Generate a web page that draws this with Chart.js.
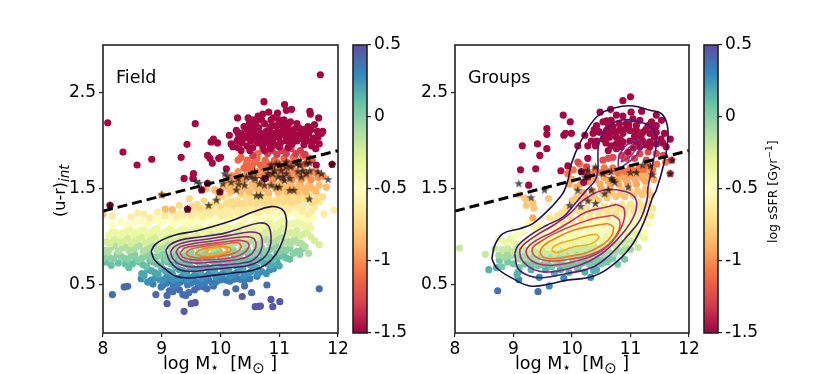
<!DOCTYPE html>
<html><head><meta charset="utf-8">
<style>html,body{margin:0;padding:0;background:#fff;width:831px;height:374px;overflow:hidden}canvas{position:absolute;top:0}</style>
<script src="https://cdn.jsdelivr.net/npm/chart.js@4"></script>
</head><body>
<canvas id="p1" style="left:0" width="352" height="374"></canvas>
<canvas id="c1" style="left:349px" width="70" height="374"></canvas>
<canvas id="p2" style="left:405px" width="300" height="374"></canvas>
<canvas id="c2" style="left:700px" width="131" height="374"></canvas>
<script>
const xTicks=[8,9,10,11,12], yTicks=[0.5,1.5,2.5];
const cbTicks=[-1.5,-1,-0.5,0,0.5];
const cbLabels=['-1.5','-1','-0.5','0','0.5'];
const spectral=['#9e0142','#d53e4f','#f46d43','#fdae61','#fee08b','#ffffbf','#e6f598','#abdda4','#66c2a5','#3288bd','#5e4fa2'];
const dashLine=[8,1.27,12,1.9];

// Field: points grouped by log sSFR
const fA=[8.16,1.22,8.48,1.21,8.59,1.25,8.7,1.24,8.93,1.26,9.19,1.25,9.3,1.24,9.42,1.27,9.5,1.22,9.58,1.28,9.66,1.24,9.74,1.27,9.82,1.23,9.9,1.28,9.98,1.25,10.05,1.22,10.12,1.28,10.2,1.31,10.28,1.26,10.36,1.3,10.44,1.27,10.52,1.32,10.6,1.29,10.68,1.33,10.76,1.3,10.84,1.34,10.92,1.31,11,1.35,11.08,1.32,11.16,1.29,11.24,1.34,11.32,1.31,11.4,1.27,11.5,1.24,11.6,1.31,11.76,1.24,11.93,1.28,11.69,1.37,8.8,1.2,9.05,1.22,9.25,1.21,9.37,1.23,9.54,1.25,9.7,1.21,9.86,1.26,10.01,1.27,10.16,1.23,10.32,1.24,10.48,1.29,10.64,1.25,10.8,1.28,10.96,1.33,11.12,1.28,11.28,1.33,11.44,1.32,11.55,1.27];
const fB=[8.15,1.12,8.55,1.15,8.72,1.13,8.85,1.18,8.97,1.14,9.08,1.19,9.2,1.14,9.32,1.18,9.44,1.14,9.56,1.19,9.68,1.15,9.8,1.2,9.92,1.16,10.04,1.21,10.16,1.17,10.28,1.22,10.4,1.18,10.52,1.24,10.64,1.2,10.76,1.25,10.88,1.21,11,1.27,11.12,1.23,11.24,1.27,11.36,1.21,11.48,1.18,11.58,1.2,8.3,1.16,8.42,1.13,8.65,1.17,8.78,1.16,8.91,1.2,9.02,1.17,9.14,1.17,9.26,1.19,9.38,1.16,9.5,1.16,9.62,1.18,9.74,1.19,9.86,1.18,9.98,1.19,10.1,1.19,10.22,1.2,10.34,1.2,10.46,1.21,10.58,1.22,10.7,1.22,10.82,1.23,10.94,1.24,11.06,1.25,11.18,1.25,11.3,1.24,11.42,1.24];
const fC=[8.1,1.02,8.22,1.05,8.34,1.04,8.46,1.08,8.58,1.05,8.7,1.09,8.82,1.05,8.92,1.09,9.04,1.05,9.16,1.09,9.28,1.06,9.4,1.1,9.52,1.07,9.64,1.11,9.76,1.07,9.88,1.12,10,1.08,10.12,1.13,10.24,1.09,10.36,1.14,10.48,1.1,10.6,1.15,10.72,1.12,10.84,1.17,10.96,1.13,11.08,1.18,11.2,1.14,11.32,1.16,11.44,1.11,11.54,1.09,8.16,1.07,8.28,1.02,8.4,1.06,8.52,1.03,8.64,1.07,8.76,1.03,8.87,1.07,8.98,1.03,9.1,1.07,9.22,1.04,9.34,1.08,9.46,1.05,9.58,1.09,9.7,1.05,9.82,1.1,9.94,1.06,10.06,1.1,10.18,1.07,10.3,1.11,10.42,1.08,10.54,1.13,10.66,1.09,10.78,1.14,10.9,1.11,11.02,1.16,11.14,1.11,11.26,1.13,11.38,1.14,11.5,1.13];
const fD=[8.06,.95,8.18,.97,8.3,.94,8.42,.99,8.54,.96,8.66,1,8.78,.96,8.9,1,9.02,.96,9.14,1.01,9.26,.97,9.38,1.01,9.5,.98,9.62,1.02,9.74,.98,9.86,1.03,9.98,.99,10.1,1.03,10.22,1,10.34,1.05,10.46,1.01,10.58,1.06,10.7,1.02,10.82,1.07,10.94,1.04,11.06,1.09,11.18,1.05,11.3,1.07,11.42,1.03,11.54,1,11.68,.92,8.12,.93,8.24,.99,8.36,.96,8.48,.93,8.6,.98,8.72,.94,8.84,.98,8.96,.94,9.08,.99,9.2,.95,9.32,.99,9.44,.96,9.56,1,9.68,.96,9.8,1.01,9.92,.97,10.04,1.01,10.16,.98,10.28,1.02,10.4,.99,10.52,1.03,10.64,1,10.76,1.05,10.88,1.01,11,1.06,11.12,1.02,11.24,1.03,11.36,1.01,11.48,1.05,11.6,.96];
const fE=[8.04,.86,8.14,.89,8.26,.85,8.38,.9,8.5,.87,8.62,.91,8.74,.87,8.86,.91,8.98,.88,9.1,.92,9.22,.88,9.34,.93,9.46,.89,9.58,.93,9.7,.89,9.82,.94,9.94,.9,10.06,.95,10.18,.91,10.3,.96,10.42,.92,10.54,.97,10.66,.93,10.78,.98,10.9,.95,11.02,1,11.14,.96,11.26,.98,11.38,.93,11.5,.83,8.09,.84,8.2,.91,8.32,.88,8.44,.86,8.56,.89,8.68,.85,8.8,.89,8.92,.86,9.04,.9,9.16,.86,9.28,.91,9.4,.87,9.52,.91,9.64,.87,9.76,.92,9.88,.88,10,.93,10.12,.89,10.24,.94,10.36,.9,10.48,.95,10.6,.91,10.72,.96,10.84,.93,10.96,.97,11.08,.94,11.2,.93,11.32,.94,11.44,.9];
const fF=[8,.77,8.08,.8,8.18,.77,8.3,.8,8.42,.77,8.54,.82,8.66,.78,8.78,.82,8.9,.79,9.02,.83,9.14,.79,9.26,.83,9.38,.8,9.5,.84,9.62,.8,9.74,.85,9.86,.81,9.98,.85,10.1,.82,10.22,.86,10.34,.83,10.46,.87,10.58,.84,10.7,.89,10.82,.86,10.94,.91,11.06,.87,11.18,.89,11.3,.85,11.4,.88,8.12,.78,8.24,.82,8.36,.78,8.48,.8,8.6,.76,8.72,.8,8.84,.77,8.96,.81,9.08,.77,9.2,.81,9.32,.78,9.44,.82,9.56,.78,9.68,.83,9.8,.79,9.92,.83,10.04,.8,10.16,.84,10.28,.81,10.4,.85,10.52,.82,10.64,.87,10.76,.84,10.88,.88,11,.85,11.12,.86,11.24,.83,11.35,.82];
const fG=[8.05,.74,8.14,.705,8.26,.73,8.38,.72,8.44,.68,8.56,.75,8.68,.71,8.8,.75,8.92,.72,9.04,.76,9.16,.72,9.28,.76,9.4,.73,9.52,.77,9.64,.73,9.76,.78,9.88,.74,10,.78,10.12,.75,10.24,.79,10.36,.76,10.48,.8,10.6,.77,10.72,.82,10.84,.79,10.96,.83,11.08,.8,11.18,.77,8.5,.72,8.62,.74,8.74,.69,8.86,.74,8.98,.7,9.1,.74,9.22,.7,9.34,.74,9.46,.71,9.58,.75,9.7,.71,9.82,.76,9.94,.72,10.06,.76,10.18,.73,10.3,.77,10.42,.74,10.54,.78,10.66,.76,10.78,.8,10.9,.77,11.02,.8,11.12,.78];
const fH=[8.66,.62,8.76,.66,8.88,.63,9,.67,9.12,.64,9.24,.68,9.36,.65,9.48,.69,9.6,.66,9.72,.7,9.84,.67,9.96,.71,10.08,.68,10.2,.72,10.32,.69,10.44,.73,10.56,.7,10.68,.75,10.8,.72,10.92,.76,11,.7,8.7,.6,8.82,.65,8.94,.61,9.06,.65,9.18,.62,9.3,.66,9.42,.63,9.54,.67,9.66,.64,9.78,.68,9.9,.65,10.02,.69,10.14,.66,10.26,.7,10.38,.67,10.5,.71,10.62,.68,10.74,.73,10.86,.7,10.96,.74];
const fI=[8.65,.566,8.76,.53,8.9,.58,9.02,.55,9.14,.6,9.26,.57,9.38,.6,9.5,.58,9.62,.62,9.74,.59,9.86,.63,9.98,.6,10.1,.64,10.22,.61,10.34,.65,10.46,.62,10.58,.67,10.7,.64,10.78,.62,10.9,.67,8.82,.55,8.96,.56,9.08,.58,9.2,.55,9.32,.58,9.44,.56,9.56,.6,9.68,.57,9.8,.61,9.92,.58,10.04,.62,10.16,.59,10.28,.63,10.4,.6,10.52,.64,10.64,.62,10.84,.66];
const fJ=[8.85,.51,8.99,.48,9.08,.52,9.2,.49,9.32,.53,9.44,.5,9.56,.54,9.68,.51,9.8,.55,9.92,.53,10.04,.56,10.16,.54,10.28,.57,10.4,.55,10.5,.566,10.62,.59,9.02,.5,9.14,.54,9.26,.51,9.38,.55,9.5,.52,9.62,.52,9.74,.53,9.86,.52,9.98,.55,10.1,.55,10.22,.56,10.34,.56,10.46,.58];
const fK=[8.16,.4,8.36,.48,8.42,.486,8.9,.4,9.09,.39,9.13,.44,9.19,.43,9.22,.47,9.3,.45,9.36,.4,9.41,.39,9.46,.42,9.56,.45,9.62,.48,9.77,.46,9.72,.48,9.88,.49,10.1,.42,10.26,.46,10.41,.49,10.53,.42,10.79,.5,11.68,.46];
const fL=[9.09,.305,9.38,.226,9.5,.305,9.57,.316,10.37,.38,10.59,.274,10.65,.278,10.68,.28,10.86,.35,10.89,.274,11.01,.326];
const fM=[9.47,1.4,9.6,1.34,9.72,1.38,9.85,1.33,9.95,1.39,10.04,1.42,10.1,1.35,10.15,1.45,10.27,1.38,10.35,1.44,10.44,1.42,10.5,1.36,10.61,1.35,10.7,1.41,10.78,1.42,10.86,1.38,10.95,1.38,11.04,1.44,11.12,1.4,11.2,1.36,11.29,1.38,11.36,1.45,11.45,1.4,11.55,1.36,11.63,1.38,11.74,1.42,11.63,1.45,9.3,1.33,9.52,1.32,9.65,1.3,9.78,1.31,9.9,1.36,10,1.32,10.18,1.37,10.22,1.33,10.32,1.35,10.4,1.35,10.56,1.42,10.65,1.38,10.74,1.36,10.82,1.44,10.9,1.35,11,1.41,11.08,1.37,11.16,1.42,11.25,1.41,11.34,1.38,11.5,1.43];
const fN=[8,1.24,9.06,1.29,9.18,1.285,9,1.44,9.75,1.5,9.9,1.49,9.97,1.45,10.05,1.52,10.14,1.5,10.22,1.55,10.3,1.49,10.38,1.55,10.46,1.49,10.54,1.55,10.62,1.5,10.7,1.55,10.78,1.5,10.86,1.56,10.94,1.5,11.02,1.55,11.1,1.5,11.18,1.55,11.26,1.5,11.34,1.55,11.42,1.5,11.5,1.54,11.58,1.5,11.68,1.54,11.8,1.52,10.1,1.55,10.18,1.48,10.26,1.52,10.34,1.47,10.42,1.51,10.5,1.47,10.58,1.53,10.66,1.47,10.74,1.51,10.82,1.46,10.9,1.53,10.98,1.47,11.06,1.52,11.14,1.47,11.22,1.52,11.3,1.47,11.38,1.52,11.46,1.47,11.54,1.52,11.62,1.48];
const fO=[10.1,1.6,10.2,1.64,10.3,1.68,10.38,1.63,10.46,1.68,10.54,1.63,10.62,1.68,10.7,1.64,10.78,1.69,10.86,1.64,10.94,1.69,11.02,1.64,11.1,1.69,11.18,1.64,11.26,1.69,11.34,1.63,11.42,1.68,11.5,1.63,11.58,1.68,11.66,1.62,11.75,1.63,10.25,1.6,10.34,1.6,10.42,1.6,10.5,1.67,10.58,1.6,10.66,1.65,10.74,1.6,10.82,1.68,10.9,1.6,10.98,1.67,11.06,1.6,11.14,1.67,11.22,1.6,11.3,1.66,11.38,1.6,11.46,1.66,11.54,1.6,11.62,1.67];
const fP=[10.3,1.8,10.35,1.83,10.44,1.76,10.5,1.72,10.58,1.78,10.62,1.82,10.64,1.87,10.68,1.75,10.76,1.8,10.84,1.74,10.92,1.8,11,1.76,11.08,1.82,11.16,1.77,11.24,1.83,11.32,1.78,11.4,1.84,11.48,1.78,11.56,1.8,10.4,1.72,10.46,1.8,10.54,1.74,10.72,1.72,10.8,1.76,10.88,1.73,10.96,1.78,11.04,1.73,11.12,1.78,11.2,1.74,11.28,1.8,11.36,1.75,11.44,1.76,11.52,1.82];
const fQ=[10.55,1.85,10.72,1.92,10.8,1.87,10.88,1.9,10.96,1.86,11.04,1.9,11.12,1.87,11.2,1.92,11.28,1.87,11.36,1.9,11.44,1.86];
const fR=[11.7,2.69,8.08,2.19,10.74,2.41,11.09,2.38,9.57,2.18,8.34,1.885,8.58,1.75,8.83,1.81,9.33,1.83,9.43,1.965,9.38,1.61,9.54,1.66,9.53,1.61,9.78,1.85,9.86,1.77,9.82,1.82,10,1.83,9.97,1.82,9.84,1.99,9.88,2.02,9.95,1.98,10.15,2.06,10.29,2.24,10.47,2.24,10.55,2.22,10.64,2.26,10.72,2.28,10.82,2.3,10.97,2.29,11.12,2.32,11.21,2.33,11.52,2.31,11.53,2.28,11.67,2.24,11.6,2.17,11.49,2.15,11.74,2.1,11.72,2.08,11.66,2.04,10.27,2.11,10.3,2.08,10.18,1.97,10.21,1.94,10.49,2.18,10.3,2.02,10.36,1.98,10.42,2.05,10.45,1.95,10.5,2.06,10.52,2,10.55,1.93,10.58,2.1,10.6,2.04,10.63,1.98,10.65,2.14,10.68,2.08,10.7,2.02,10.72,1.95,10.75,2.18,10.78,2.1,10.8,2.04,10.82,1.98,10.84,2.14,10.86,2.22,10.88,2.08,10.9,2.02,10.92,1.96,10.95,2.16,10.97,2.1,11,2.04,11.02,1.98,11.05,2.18,11.07,2.12,11.1,2.06,11.12,2,11.15,2.15,11.17,2.09,11.2,2.03,11.22,1.97,11.25,2.12,11.28,2.06,11.3,2,11.33,2.14,11.36,2.08,11.4,2.02,11.42,1.96,11.46,2.06,11.5,2,11.55,1.95,11.58,2.03,11.62,1.92,10.9,2.24,11,2.22,10.6,2.2,10.7,2.22,10.75,1.9,10.85,1.92,11,1.94,11.15,1.93,10.45,2.12,10.5,1.9,10.35,1.9,10.3,1.93,10.58,2.17,10.1,1.71,10.76,1.61,11.63,1.75,11.9,1.757,9.44,1.29,8.12,1.33,9.99,1.47,9.68,1.49,9.78,1.56,10.35,2.08,10.4,2.15,10.28,2,10.38,2.02,10.47,2.03,10.54,2.12,10.62,2.08,10.66,2.02,10.74,2.06,10.77,1.98,10.83,2.08,10.88,2.16,10.94,2.05,10.99,2.17,11.04,2.08,11.08,2.22,11.13,2.18,11.19,2.2,11.24,2.05,11.3,2.18,11.34,2.05,11.38,2.12,11.44,2.12,11.5,2.08,11.54,2.12,11.6,2,11.68,1.97,11.65,2.1];
const fieldLayers=[fL,fK,fJ,fI,fH,fG,fF,fE,fD,fC,fB,fA,fM,fN,fO,fP,fQ,fR];
const fieldLayerSSFR=[.47,.4,.34,.27,.19,.1,0,-.12,-.25,-.36,-.48,-.62,-.72,-.85,-1,-1.13,-1.3,-1.48];
const fieldStars=[8.12,1.33,9.44,1.29,9.8,1.33,9.93,1.385,9,1.44,9.68,1.49,9.99,1.47,9.78,1.56,9.59,1.58,9.64,1.56,10.04,1.555,10.07,1.66,10.125,1.635,10.18,1.57,10.27,1.49,10.31,1.55,10.41,1.54,10.3,1.61,10.44,1.625,10.58,1.68,10.61,1.43,10.68,1.43,10.66,1.555,10.75,1.54,10.59,1.61,10.72,1.61,10.81,1.66,10.86,1.75,10.95,1.76,11,1.75,11.12,1.78,11.2,1.73,11.29,1.76,11.46,1.77,11.52,1.77,10.86,1.54,10.95,1.52,11,1.52,11.06,1.625,11.12,1.66,11.09,1.59,11.18,1.61,11.18,1.486,11.25,1.486,11.32,1.68,11.4,1.69,11.375,1.625,11.46,1.66,11.52,1.69,11.51,1.396,11.66,1.68,11.72,1.66,11.83,1.6,11.9,1.757,10.89,1.66,10.98,1.625,11.03,1.69,11.12,1.73,10.92,1.69,11.35,1.75,10.52,1.625,10.78,1.625];

// Field contours, outer to inner
const fc1=[8.82,.85,8.875,.913,8.99,.965,9.24,1.024,9.585,1.0625,9.87,1.11,10.21,1.174,10.55,1.26,10.86,1.316,11.03,1.295,11.11,1.226,11.12,1.104,11.06,.965,10.95,.826,10.78,.715,10.55,.653,10.21,.625,9.87,.6,9.47,.573,9.24,.59,9.05,.67,8.875,.764];
const fc2=[9.07,.861,9.13,.913,9.3,.965,9.64,1,10.04,1.035,10.32,1.087,10.66,1.146,10.81,1.12,10.86,1,10.835,.878,10.72,.774,10.49,.705,10.15,.68,9.81,.66,9.47,.642,9.27,.67,9.13,.757];
const fc3=[9.15,.844,9.22,.903,9.415,.948,9.76,.976,10.15,1.017,10.49,1.052,10.66,1.035,10.71,.965,10.69,.861,10.55,.757,10.27,.722,9.93,.705,9.53,.6875,9.3,.715,9.19,.774];
const fc4=[9.24,.844,9.31,.896,9.53,.93,9.87,.958,10.21,.99,10.49,1,10.59,.965,10.59,.878,10.47,.8,10.21,.757,9.87,.74,9.53,.729,9.33,.764];
const fc5=[9.31,.833,9.39,.885,9.64,.913,9.98,.941,10.3,.965,10.45,.948,10.48,.896,10.38,.826,10.15,.781,9.81,.764,9.5,.764,9.36,.79];
const fc6=[9.41,.833,9.5,.875,9.76,.903,10.1,.93,10.3,.941,10.35,.896,10.24,.833,9.98,.799,9.64,.781,9.47,.799];
const fc7=[9.57,.833,9.7,.875,9.93,.896,10.125,.896,10.18,.868,10.07,.826,9.87,.799,9.67,.799];
const fc8=[9.73,.844,9.87,.882,10.07,.889,10.125,.868,10.01,.833,9.84,.819];
const fieldContours=[fc1,fc2,fc3,fc4,fc5,fc6,fc7,fc8];
const fieldContourColors=['#1f1147','#4f1a72','#7d2480','#a52c7a','#c93f63','#e45c3a','#f5841f','#f9a825'];

// Groups
const g1=[8.73,.44,9.42,.43];
const g2=[9.61,.49,9.86,.57,9.44,.58,9.09,.555,10.32,.58];
const g3=[8.58,.66,8.71,.68,9.08,.635,9.06,.61,9.95,.63,10.22,.635,10.42,.66,10.37,.65,9.3,.66,9.55,.66,9.7,.62,9.8,.66,10.1,.67];
const g4=[8.8,.69,8.76,.757,8.9,.74,9,.72,9.1,.68,9.2,.72,9.35,.72,9.5,.71,9.65,.69,9.75,.72,9.9,.7,10,.72,10.15,.72,10.3,.71,10.5,.72,10.6,.74,10.78,.715,10.9,.767,10.67,.774,10.45,.76,9.28,.73,9.42,.7,9.58,.73,9.82,.73,9.96,.7,10.08,.7,10.22,.74,10.38,.74,10.54,.76,10.7,.78];
const g5=[8.75,.81,8.85,.79,8.95,.8,9.1,.77,9.25,.78,9.4,.77,9.55,.77,9.7,.76,9.85,.78,10,.78,10.15,.79,10.3,.79,10.4,.82,10.55,.82,10.72,.83,10.85,.85,11,.87,8.9,.83,9.05,.82,9.18,.8,9.32,.8,9.48,.8,9.62,.79,9.78,.8,9.92,.81,10.08,.82,10.22,.82,10.35,.84,10.48,.85,10.62,.86,10.78,.87,10.92,.89];
const g6=[8.08,.885,8.52,.82,8.68,.88,8.8,.87,8.9,.88,9,.85,9.1,.88,9.25,.84,9.4,.84,9.55,.83,9.7,.83,9.85,.84,10,.85,10.15,.86,10.3,.87,10.45,.88,10.6,.89,10.75,.91,10.9,.93,11.13,.89,11.05,.95,9.05,.9,9.18,.87,9.32,.87,9.48,.87,9.62,.86,9.78,.87,9.92,.88,10.08,.89,10.22,.9,10.38,.91,10.52,.92,10.68,.94,10.82,.95,10.98,.97];
const g7=[8.85,.95,8.75,.98,9,.94,9.15,.93,9.3,.9,9.45,.9,9.6,.89,9.75,.9,9.9,.91,10.05,.92,10.2,.94,10.35,.95,10.5,.96,10.65,.98,10.8,1,10.95,1.01,11.24,.99,11.1,1.03,8.95,.98,9.22,.96,9.38,.94,9.52,.93,9.68,.93,9.82,.94,9.98,.95,10.12,.97,10.28,.98,10.42,.99,10.58,1.01,10.72,1.03,10.88,1.05,11.02,1.06,11.18,1.02];
const g8=[9.05,1.02,9.3,1,9.45,.98,9.6,.97,9.75,.98,9.9,.98,10.05,1,10.2,1.01,10.35,1.03,10.5,1.05,10.65,1.06,10.8,1.08,10.95,1.1,11.1,1.12,11.25,1.05,9.15,1.05,9.38,1.04,9.55,1.02,9.68,1.01,9.82,1.02,9.98,1.03,10.12,1.05,10.28,1.06,10.42,1.08,10.58,1.1,10.72,1.12,10.88,1.13,11.02,1.15,11.18,1.16];
const g9=[9.25,1.14,9.35,1.1,9.5,1.06,9.65,1.05,9.8,1.06,9.95,1.07,10.1,1.09,10.25,1.1,10.4,1.12,10.55,1.14,10.7,1.15,10.85,1.17,11,1.18,11.15,1.2,11.3,1.14,9.45,1.12,9.58,1.1,9.72,1.09,9.88,1.11,10.02,1.13,10.18,1.14,10.32,1.16,10.48,1.18,10.62,1.19,10.78,1.21,10.92,1.22,11.08,1.23,11.25,1.22];
const g10=[9.7,1.14,9.85,1.15,10,1.17,10.15,1.19,10.3,1.2,10.45,1.22,10.6,1.23,10.75,1.25,10.9,1.26,11.05,1.27,11.2,1.28,11.35,1.22,9.93,1.22,10.1,1.27,10.25,1.3,10.4,1.3,10.55,1.32,10.7,1.33,10.85,1.34,11,1.34,11.15,1.36,11.3,1.35,9.75,1.22,9.9,1.3,9.62,1.2,9.82,1.25,9.98,1.25,10.18,1.25,10.32,1.26,10.48,1.27,10.62,1.28,10.78,1.29,10.92,1.3,11.08,1.31,11.22,1.32,11.38,1.3];
const g11=[10,1.38,10.15,1.38,10.3,1.39,10.45,1.38,10.6,1.41,10.75,1.42,10.9,1.42,11.05,1.43,11.2,1.44,11.35,1.43,11.25,1.5,10.85,1.49,9.6,1.4,9.35,1.3,9.2,1.4,9.1,1.44,9.22,1.33,9.33,1.36,10.08,1.42,10.22,1.42,10.38,1.43,10.52,1.45,10.68,1.46,10.82,1.45,10.98,1.48,11.12,1.48,11.3,1.48];
const g12=[9.33,1.2,10.2,1.46,10.35,1.48,10.5,1.5,10.65,1.52,10.8,1.55,10.95,1.56,11.1,1.55,11.25,1.58,11.4,1.6,10,1.6,10.15,1.55,9.95,1.55,10.4,1.6,10.55,1.62,10.7,1.6,10.85,1.63,11,1.63,11.15,1.65,11.3,1.66,10.28,1.58,10.48,1.55,10.62,1.58,10.78,1.6,10.92,1.6,11.08,1.6,11.2,1.62,11.35,1.63,10.08,1.52];
const g13=[10.25,1.68,10.4,1.7,10.55,1.72,10.7,1.72,10.85,1.7,11,1.72,11.15,1.72,11.3,1.74,11.45,1.76,11.6,1.78,10.02,1.7,9.93,1.66,10.13,1.76,10.32,1.65,10.48,1.67,10.62,1.68,10.78,1.67,10.92,1.68,11.08,1.69,11.22,1.7,11.38,1.7];
const g14=[10.1,1.78,10.25,1.73,10.53,1.8,10.62,1.82,10.7,1.83,10.93,1.82,11.07,1.82,11.16,1.87,11.27,1.8,11.3,1.885,11.44,1.87,11.56,1.85,11.7,1.8,11.68,1.66,10.85,1.85];
const g15=[11,2.46,10.87,2.42,10.66,2.33,10.48,2.3,9.85,2.27,9.97,2.2,9.57,2.13,9.57,2.07,9.86,2.06,9.89,2.08,9.99,2.08,9.15,1.95,9.41,1.97,9.57,1.92,9.45,1.85,9.12,1.7,9.38,1.71,9.26,1.54,9.93,1.74,9.81,1.69,10.1,1.95,10.22,2.06,10.27,1.95,10.27,1.82,10.2,1.57,10.16,1.68,10.27,1.625,10.42,2.16,10.53,2.2,10.59,2.21,10.67,2.215,10.76,2.27,10.87,2.26,11.01,2.3,11.19,2.31,11.44,2.27,11.36,2.2,11.53,2.215,11.3,2.16,11.16,2.215,11.04,2.23,10.93,2.18,10.81,2.18,10.7,2.15,10.59,2.11,10.47,2.09,10.36,2.08,10.33,2,10.42,2,10.53,2.02,10.64,2.04,10.76,2.04,10.87,2.08,10.99,2.11,11.1,2.11,11.21,2.09,11.33,2.08,11.44,2.09,11.58,2.08,11.68,2.02,11.61,1.94,11.44,1.97,11.33,1.99,11.21,2,11.1,1.99,10.99,2,10.87,1.99,10.76,1.97,10.67,1.95,10.76,1.92,10.84,1.94,10.96,1.885,11.16,1.94,11.33,1.94,11.41,2.04,10.64,2.11,10.81,2.11,10.93,2.13,11.1,2.16,11.44,2.16,10.45,2.1,10.56,2.06,10.62,2.17,10.72,2.09,10.85,2.12,10.97,2.17,11.07,2.05,11.18,2.05,11.26,2.12,11.38,2.14,11.52,2.02,10.38,2.12,10.58,1.98,10.82,2.02,11.05,1.93,11.25,1.96,11.55,1.98,10.4,1.95,10.62,1.9];
const groupLayers=[g1,g2,g3,g4,g5,g6,g7,g8,g9,g10,g11,g12,g13,g14,g15];
const groupLayerSSFR=[.38,.28,.16,.05,-.08,-.2,-.33,-.45,-.55,-.68,-.8,-.92,-1.08,-1.25,-1.48];
const groupStars=[9.09,1.556,9.3,1.41,9.53,1.49,9.96,1.33,10.15,1.32,10.27,1.375,10.4,1.35,10.1,1.486,10.33,1.49,10.56,1.45,10.62,1.49,10.96,1.52,10.27,1.69,10.16,1.68,10.22,1.625,10.4,1.73,10.53,1.66,10.67,1.68,10.67,1.61,10.73,1.57,10.7,1.59,11,1.67,11.1,1.67,11.21,1.75,11.34,1.74,11.38,1.65,11.68,1.66,11.71,1.8];

// Groups contours
const gc1=[8.63,.774,8.68,.913,8.82,1.035,9.105,1.087,9.33,1.14,9.62,1.295,9.82,1.434,9.87,1.486,9.93,1.59,9.99,1.764,10.13,1.97,10.42,2.25,10.76,2.35,11.04,2.365,11.33,2.32,11.53,2.285,11.63,2.16,11.63,1.97,11.57,1.76,11.44,1.486,11.38,1.417,11.24,1.17,11.04,.93,10.76,.74,10.36,.59,9.9,.55,9.62,.51,9.28,.49,8.99,.566,8.71,.68];
const gc2=[9.02,.826,9.08,.913,9.28,1.017,9.56,1.12,9.85,1.21,10.05,1.347,10.245,1.486,10.42,1.625,10.46,1.972,10.59,2.128,10.81,2.215,11.16,2.198,11.38,2.128,11.44,1.972,11.38,1.764,11.3,1.52,11.28,1.38,11.16,1.174,10.93,1,10.7,.844,10.36,.6875,9.9,.618,9.5,.576,9.28,.594,9.08,.67];
const gc3=[10.79,1.747,10.81,1.85,10.96,1.97,11.16,2.007,11.19,1.9375,11.07,1.833,10.93,1.764,10.81,1.72];
const gc4=[10.84,1.78,10.9,1.885,11.04,1.955,11.1,1.9375,11.01,1.85,10.87,1.79];
const gc5=[9.105,.861,9.16,.913,9.39,1.017,9.675,1.12,9.96,1.243,10.19,1.382,10.53,1.486,10.87,1.479,11.07,1.417,11.1,1.295,10.99,1.14,10.76,.965,10.47,.81,10.13,.705,9.73,.642,9.45,.642,9.25,.694,9.13,.774];
const gc6=[10.76,1.34,10.89,1.295,10.87,1.14,10.7,.965,10.42,.826,10.07,.75,9.675,.705,9.42,.722,9.25,.79,9.23,.878,9.39,.965,9.675,1.052,9.96,1.156,10.245,1.26,10.59,1.3125];
const gc7=[10.7,1.226,10.81,1.174,10.8,1.07,10.64,.93,10.36,.826,10.02,.774,9.62,.75,9.39,.79,9.32,.878,9.45,.948,9.7,1.035,10.02,1.12,10.36,1.19];
const gc8=[10.615,1.14,10.71,1.097,10.615,.965,10.3,.85,9.96,.8,9.62,.774,9.46,.826,9.52,.913,9.73,.99,10.02,1.07,10.3,1.11];
const gc9=[10.42,1.03,10.46,.993,10.33,.93,10.02,.896,9.73,.837,9.66,.868,9.74,.92,10.02,.972,10.245,1.014];
const groupContours=[gc1,gc2,gc3,gc4,gc5,gc6,gc7,gc8,gc9];
const groupContourColors=['#1f1147','#4f1a72','#7d2480','#a52c7a','#8b2680','#b5306f','#d4484f','#f07f1f','#f9a825'];

function pairs(a){const o=[];for(let i=0;i<a.length;i+=2)o.push({x:a[i],y:a[i+1]});return o;}
function hex(h){return [1,3,5].map(i=>parseInt(h.substr(i,2),16));}
function cmap(v){const t=Math.max(0,Math.min(1,(v+1.5)/2))*10,i=Math.min(9,Math.floor(t)),f=t-i,a=hex(spectral[i]),b=hex(spectral[i+1]);
 return 'rgb('+a.map((c,k)=>Math.round(c+(b[k]-c)*f)).join(',')+')';}
const F='"DejaVu Sans"';
function makeStar(){const c=document.createElement('canvas');c.width=c.height=11;const x=c.getContext('2d');x.beginPath();
 for(let i=0;i<10;i++){const r=i%2?1.9:4.7,a=-Math.PI/2+i*Math.PI/5;x.lineTo(5.5+r*Math.cos(a),5.7+r*Math.sin(a));}
 x.closePath();x.fillStyle='rgba(0,0,0,0.68)';x.fill();return c;}
const star=makeStar();

function segs(ctx,list,x,y){ // list of [text,font,dy]
 let cx=x;ctx.textBaseline='alphabetic';ctx.textAlign='left';ctx.fillStyle='#000';
 for(const s of list){ctx.font=s[1];ctx.fillText(s[0],cx,y+(s[2]||0));cx+=ctx.measureText(s[0]).width;}}

const xTitle=[['log M','17.5px '+F],['⋆','14px '+F,3],['  [M','17.5px '+F],['⊙','15px '+F,4],[' ]','17.5px '+F]];
function panelPlugin(name,showY){return {id:'panel',
 afterDatasetsDraw(ch){const a=ch.chartArea,c=ch.ctx;c.save();c.strokeStyle='#222';c.lineWidth=1.6;c.strokeRect(a.left,a.top,a.right-a.left,a.bottom-a.top);
  c.fillStyle='#000';c.font='17.5px '+F;c.textAlign='left';c.textBaseline='alphabetic';c.fillText(name,a.left+13,83);
  segs(c,xTitle,a.left+60,369);
  if(showY){c.save();c.translate(65,217);c.rotate(-Math.PI/2);segs(c,[['(u-r)','16px '+F],['int','italic 13.5px '+F,4]],0,0);c.restore();}
  c.restore();}};}

function panel(id,layers,layerV,contours,colors,stars,name,showY,leftPx,w){
 const ds=[];
 layers.forEach((l,i)=>ds.push({type:'scatter',data:pairs(l),pointRadius:3.6,pointBorderWidth:0,backgroundColor:cmap(layerV[i]),pointBackgroundColor:cmap(layerV[i]),clip:0}));
 contours.forEach((l,i)=>{const p=pairs(l);p.push(p[0]);ds.push({type:'scatter',showLine:true,data:p,pointRadius:0,borderColor:colors[i],backgroundColor:colors[i],borderWidth:1.6,tension:0.4,fill:false,clip:0});});
 ds.push({type:'scatter',showLine:true,data:pairs(dashLine),pointRadius:0,borderColor:'#000',borderWidth:3,borderDash:[10,5],clip:0});
 ds.push({type:'scatter',data:pairs(stars),pointStyle:star,pointRadius:5.5,clip:0});
 ds.forEach((d,i)=>d.order=ds.length-i);
 new Chart(document.getElementById(id),{type:'scatter',data:{datasets:ds},plugins:[panelPlugin(name,showY)],
  options:{responsive:false,animation:false,devicePixelRatio:1,events:[],
   layout:{padding:{top:45,right:w-leftPx-(id==='p1'?235:234),left:0,bottom:0}},
   plugins:{legend:{display:false},tooltip:{enabled:false},title:{display:false}},
   scales:{
    x:{type:'linear',min:8,max:12,afterFit(s){s.height=41;},afterBuildTicks(s){s.ticks=xTicks.map(v=>({value:v}));},
      grid:{drawOnChartArea:false,drawTicks:true,tickLength:4,color:'#222',lineWidth:1.2},border:{display:false},
      ticks:{autoSkip:false,maxRotation:0,padding:2,color:'#000',font:{family:F,size:17},callback:v=>String(v)}},
    y:{type:'linear',min:0,max:3,afterFit(s){s.width=leftPx;},afterBuildTicks(s){s.ticks=yTicks.map(v=>({value:v}));},
      grid:{drawOnChartArea:false,drawTicks:true,tickLength:4,color:'#222',lineWidth:1.2},border:{display:false},
      ticks:{autoSkip:false,padding:3,color:'#000',font:{family:F,size:17},callback:v=>String(v)}}
   }}});
}
panel('p1',fieldLayers,fieldLayerSSFR,fieldContours,fieldContourColors,fieldStars,'Field',true,103,352);
panel('p2',groupLayers,groupLayerSSFR,groupContours,groupContourColors,groupStars,'Groups',false,50,300);

function colorbar(id,label,w){
 new Chart(document.getElementById(id),{type:'bar',
  data:{labels:['sSFR'],datasets:[{data:[[-1.5,0.5]],barPercentage:1,categoryPercentage:1,borderWidth:0,
    backgroundColor(c){const a=c.chart.chartArea;if(!a)return '#888';const g=c.chart.ctx.createLinearGradient(0,a.bottom,0,a.top);spectral.forEach((s,i)=>g.addColorStop(i/10,s));return g;}}]},
  plugins:[{id:'cbFrame',afterDatasetsDraw(ch){const a=ch.chartArea,c=ch.ctx;c.save();c.strokeStyle='#222';c.lineWidth=1.6;c.strokeRect(a.left,a.top,a.right-a.left,a.bottom-a.top);
    if(label){c.translate(77,243);c.rotate(-Math.PI/2);segs(c,[['log sSFR [Gyr','12.5px '+F],['−1','9px '+F,-5],[']','12.5px '+F]],0,0);}
    c.restore();}}],
  options:{responsive:false,animation:false,devicePixelRatio:1,events:[],
   layout:{padding:{top:45,left:4,right:0,bottom:41}},
   plugins:{legend:{display:false},tooltip:{enabled:false}},
   scales:{
    x:{display:false},
    y:{position:'right',type:'linear',min:-1.5,max:0.5,afterBuildTicks(s){s.ticks=cbTicks.map(v=>({value:v}));},afterFit(s){s.width=w-18;},
      grid:{drawOnChartArea:false,drawTicks:true,tickLength:4,color:'#222',lineWidth:1.2},border:{display:false},
      ticks:{autoSkip:false,padding:3,color:'#000',font:{family:F,size:17},callback:v=>cbLabels[cbTicks.indexOf(v)]}}
   }}});
}
colorbar('c1',false,70);
colorbar('c2',true,131);
</script>
</body></html>
